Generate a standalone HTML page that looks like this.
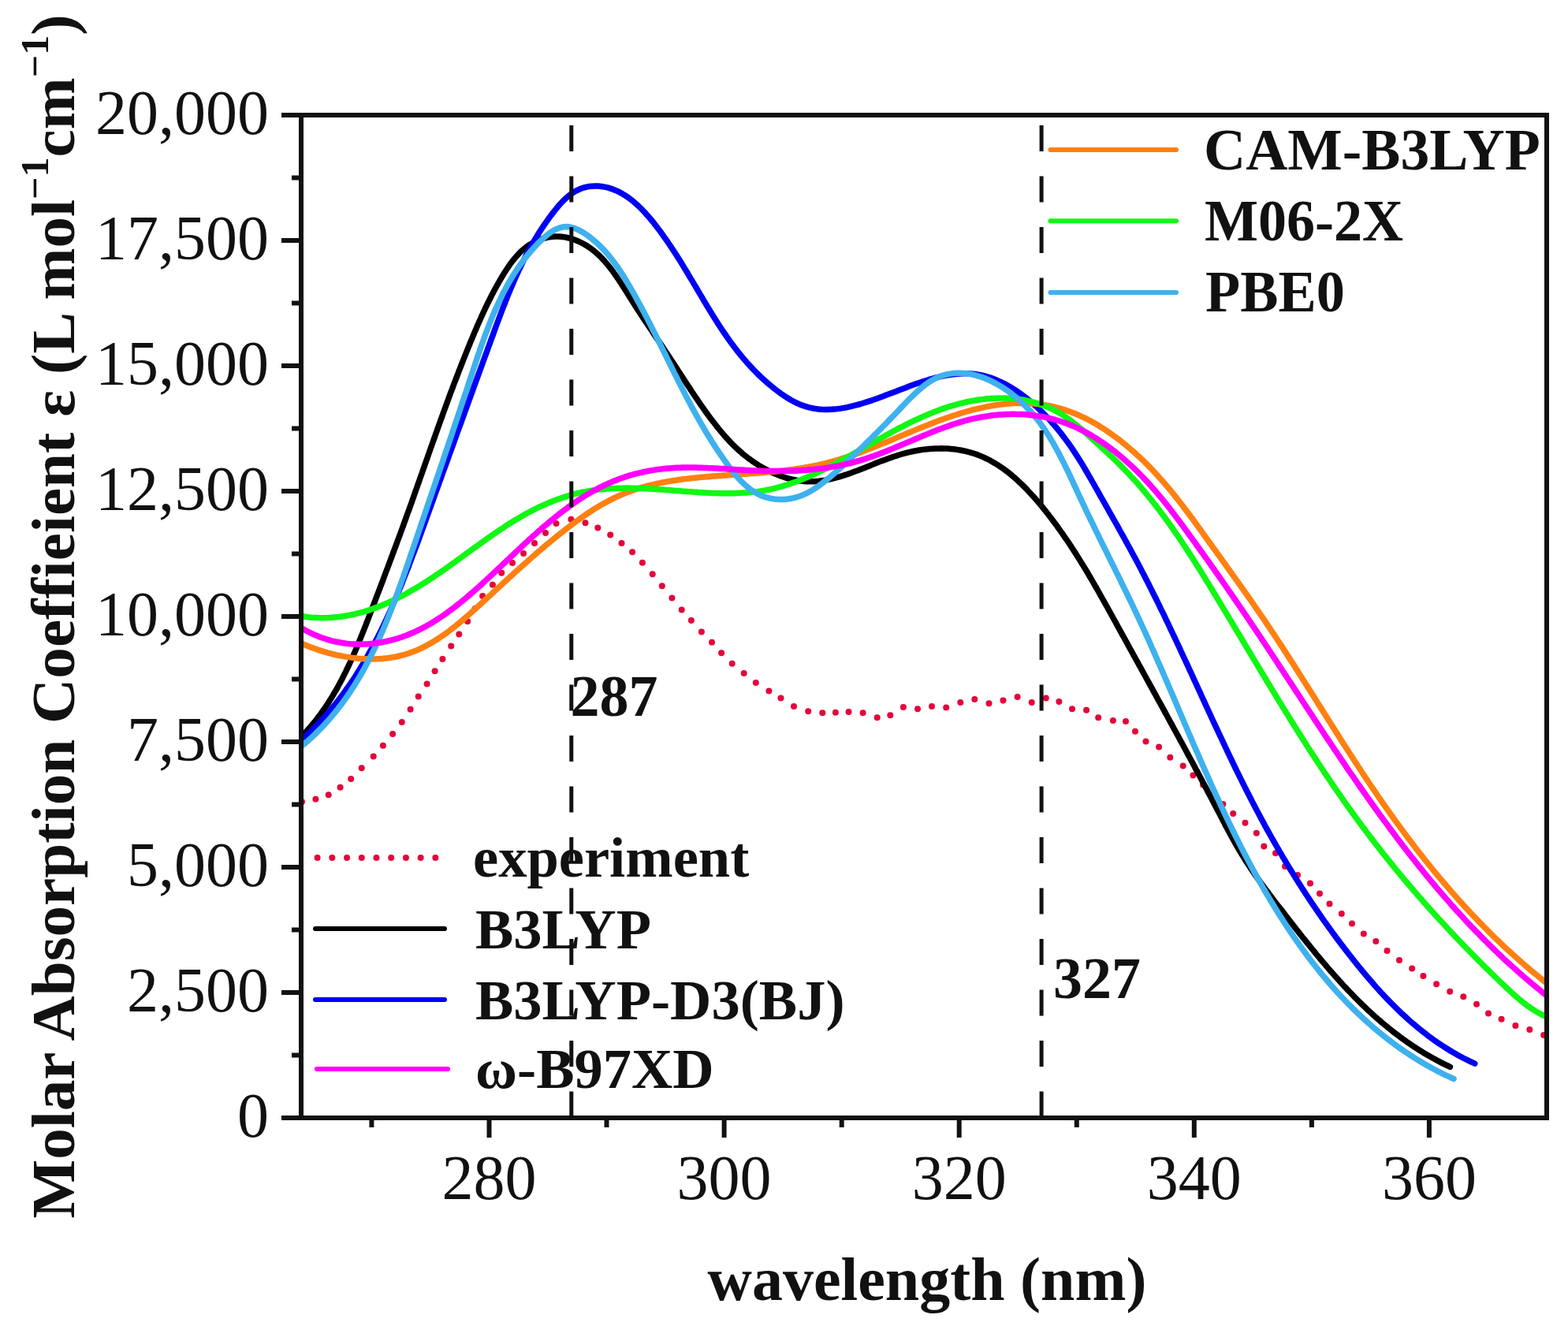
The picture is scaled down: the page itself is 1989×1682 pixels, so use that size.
<!DOCTYPE html>
<html><head><meta charset="utf-8"><style>
html,body{margin:0;padding:0;background:#fff;}
svg{display:block;}
</style></head><body>
<svg width="1989" height="1682" viewBox="0 0 1989 1682">
<rect width="1989" height="1682" fill="#fff"/>
<defs><clipPath id="c"><rect x="382" y="146" width="1580" height="1272"/></clipPath></defs>
<g clip-path="url(#c)">
<g fill="#e4063a"><circle cx="383.0" cy="1017.0" r="4"/><circle cx="400.4" cy="1013.7" r="4"/><circle cx="416.7" cy="1008.3" r="4"/><circle cx="431.6" cy="998.8" r="4"/><circle cx="445.2" cy="987.9" r="4"/><circle cx="458.7" cy="974.3" r="4"/><circle cx="473.7" cy="959.4" r="4"/><circle cx="485.9" cy="945.8" r="4"/><circle cx="498.1" cy="930.9" r="4"/><circle cx="509.8" cy="916.0" r="4"/><circle cx="520.6" cy="899.7" r="4"/><circle cx="530.7" cy="883.4" r="4"/><circle cx="541.6" cy="867.6" r="4"/><circle cx="551.6" cy="851.3" r="4"/><circle cx="561.4" cy="835.9" r="4"/><circle cx="572.2" cy="819.6" r="4"/><circle cx="582.3" cy="804.6" r="4"/><circle cx="593.1" cy="788.3" r="4"/><circle cx="602.6" cy="772.0" r="4"/><circle cx="612.1" cy="756.0" r="4"/><circle cx="624.9" cy="741.7" r="4"/><circle cx="636.2" cy="726.7" r="4"/><circle cx="650.0" cy="714.0" r="4"/><circle cx="664.0" cy="702.0" r="4"/><circle cx="678.0" cy="689.0" r="4"/><circle cx="692.0" cy="676.0" r="4"/><circle cx="705.5" cy="664.1" r="4"/><circle cx="724.4" cy="658.8" r="4"/><circle cx="742.5" cy="663.3" r="4"/><circle cx="758.3" cy="669.4" r="4"/><circle cx="774.2" cy="678.4" r="4"/><circle cx="788.5" cy="689.0" r="4"/><circle cx="802.1" cy="700.3" r="4"/><circle cx="814.9" cy="713.8" r="4"/><circle cx="827.7" cy="728.2" r="4"/><circle cx="839.8" cy="743.3" r="4"/><circle cx="852.4" cy="758.5" r="4"/><circle cx="864.7" cy="773.4" r="4"/><circle cx="876.9" cy="787.0" r="4"/><circle cx="889.9" cy="801.4" r="4"/><circle cx="903.0" cy="814.7" r="4"/><circle cx="915.1" cy="828.3" r="4"/><circle cx="928.7" cy="841.8" r="4"/><circle cx="943.7" cy="853.9" r="4"/><circle cx="958.8" cy="866.0" r="4"/><circle cx="975.4" cy="876.5" r="4"/><circle cx="990.5" cy="885.6" r="4"/><circle cx="1007.0" cy="896.1" r="4"/><circle cx="1025.2" cy="902.2" r="4"/><circle cx="1043.3" cy="904.3" r="4"/><circle cx="1059.9" cy="903.7" r="4"/><circle cx="1076.5" cy="903.1" r="4"/><circle cx="1094.6" cy="904.3" r="4"/><circle cx="1112.7" cy="910.3" r="4"/><circle cx="1129.3" cy="907.3" r="4"/><circle cx="1145.9" cy="897.0" r="4"/><circle cx="1164.0" cy="899.2" r="4"/><circle cx="1182.0" cy="896.1" r="4"/><circle cx="1200.2" cy="897.6" r="4"/><circle cx="1218.3" cy="891.0" r="4"/><circle cx="1236.3" cy="887.1" r="4"/><circle cx="1254.5" cy="892.2" r="4"/><circle cx="1272.5" cy="888.6" r="4"/><circle cx="1290.6" cy="884.0" r="4"/><circle cx="1308.7" cy="891.0" r="4"/><circle cx="1326.8" cy="885.6" r="4"/><circle cx="1343.4" cy="890.1" r="4"/><circle cx="1360.0" cy="899.2" r="4"/><circle cx="1378.1" cy="900.7" r="4"/><circle cx="1393.2" cy="910.3" r="4"/><circle cx="1411.9" cy="914.1" r="4"/><circle cx="1428.0" cy="915.1" r="4"/><circle cx="1440.0" cy="927.8" r="4"/><circle cx="1453.5" cy="940.5" r="4"/><circle cx="1470.1" cy="947.4" r="4"/><circle cx="1484.3" cy="960.7" r="4"/><circle cx="1500.7" cy="971.4" r="4"/><circle cx="1513.4" cy="983.5" r="4"/><circle cx="1526.0" cy="995.6" r="4"/><circle cx="1538.7" cy="1007.7" r="4"/><circle cx="1551.4" cy="1019.9" r="4"/><circle cx="1564.2" cy="1032.0" r="4"/><circle cx="1579.5" cy="1043.7" r="4"/><circle cx="1593.8" cy="1056.8" r="4"/><circle cx="1603.3" cy="1073.4" r="4"/><circle cx="1618.0" cy="1082.3" r="4"/><circle cx="1630.0" cy="1099.0" r="4"/><circle cx="1646.0" cy="1110.0" r="4"/><circle cx="1662.0" cy="1120.4" r="4"/><circle cx="1674.0" cy="1133.4" r="4"/><circle cx="1686.5" cy="1146.5" r="4"/><circle cx="1701.8" cy="1158.9" r="4"/><circle cx="1715.0" cy="1171.5" r="4"/><circle cx="1729.8" cy="1184.6" r="4"/><circle cx="1745.3" cy="1194.1" r="4"/><circle cx="1759.5" cy="1206.0" r="4"/><circle cx="1775.0" cy="1217.9" r="4"/><circle cx="1791.2" cy="1228.6" r="4"/><circle cx="1805.4" cy="1238.1" r="4"/><circle cx="1822.1" cy="1248.3" r="4"/><circle cx="1839.2" cy="1257.8" r="4"/><circle cx="1856.3" cy="1264.2" r="4"/><circle cx="1873.0" cy="1273.8" r="4"/><circle cx="1888.0" cy="1285.6" r="4"/><circle cx="1904.6" cy="1292.8" r="4"/><circle cx="1922.4" cy="1301.1" r="4"/><circle cx="1940.3" cy="1305.9" r="4"/><circle cx="1958.1" cy="1313.0" r="4"/></g>
<g fill="none" stroke-width="7.5" stroke-linecap="round" stroke-linejoin="round">
<path d="M382.8,934.0 385.6,931.1 388.4,928.1 391.1,925.1 393.7,922.1 396.3,919.0 398.9,915.9 401.4,912.8 403.8,909.6 406.2,906.4 408.5,903.2 410.8,899.9 413.1,896.6 415.3,893.3 417.5,889.9 419.6,886.6 421.7,883.2 423.7,879.7 425.7,876.3 427.7,872.8 429.6,869.3 431.5,865.8 433.4,862.3 435.2,858.7 437.0,855.1 438.8,851.6 440.5,847.9 442.3,844.3 443.9,840.7 445.6,837.0 447.3,833.4 448.9,829.7 450.5,826.0 452.1,822.3 453.6,818.6 455.2,814.8 456.7,811.1 458.2,807.3 459.7,803.6 461.2,799.8 462.7,796.1 464.2,792.3 465.6,788.6 467.1,784.8 468.5,781.0 470.0,777.2 471.4,773.5 472.9,769.7 474.3,765.9 475.8,762.1 477.2,758.4 478.6,754.6 480.1,750.8 481.5,747.1 482.9,743.3 484.4,739.5 485.8,735.8 487.2,732.0 488.6,728.2 490.0,724.5 491.5,720.7 492.9,716.9 494.3,713.2 495.7,709.4 497.1,705.7 498.5,701.9 499.9,698.1 501.3,694.4 502.7,690.6 504.1,686.8 505.5,683.0 506.9,679.3 508.3,675.5 509.7,671.7 511.1,667.9 512.4,664.2 513.8,660.4 515.2,656.6 516.5,652.8 517.9,649.0 519.3,645.3 520.6,641.5 522.0,637.7 523.3,633.9 524.7,630.1 526.0,626.3 527.3,622.5 528.7,618.7 530.0,614.9 531.4,611.1 532.7,607.3 534.0,603.5 535.4,599.7 536.7,595.9 538.1,592.1 539.4,588.3 540.7,584.5 542.1,580.7 543.4,576.9 544.7,573.1 546.1,569.3 547.4,565.5 548.8,561.7 550.1,557.9 551.5,554.1 552.8,550.3 554.2,546.5 555.5,542.7 556.9,538.9 558.2,535.1 559.6,531.4 561.0,527.6 562.3,523.8 563.7,520.0 565.1,516.2 566.5,512.4 567.9,508.7 569.2,504.9 570.6,501.1 572.0,497.3 573.5,493.6 574.9,489.8 576.3,486.0 577.7,482.3 579.2,478.5 580.6,474.8 582.0,471.0 583.5,467.3 585.0,463.5 586.4,459.8 587.9,456.1 589.4,452.3 590.9,448.6 592.4,444.9 593.9,441.2 595.4,437.5 596.9,433.7 598.5,430.0 600.0,426.3 601.6,422.6 603.1,419.0 604.7,415.3 606.3,411.6 607.9,407.9 609.6,404.2 611.2,400.6 612.9,396.9 614.6,393.2 616.3,389.6 618.1,385.9 619.9,382.3 621.7,378.7 623.5,375.0 625.4,371.4 627.3,367.8 629.3,364.2 631.3,360.6 633.3,357.0 635.4,353.4 637.5,349.8 639.7,346.2 642.0,342.7 644.3,339.2 646.6,335.8 649.1,332.5 651.6,329.3 654.2,326.2 656.9,323.2 659.6,320.3 662.5,317.6 665.5,315.0 668.6,312.6 671.8,310.4 675.1,308.4 678.5,306.6 682.1,305.0 685.6,303.6 689.3,302.4 693.0,301.5 696.7,300.7 700.5,300.3 704.4,300.0 708.2,300.0 712.0,300.2 715.9,300.7 719.7,301.5 723.5,302.4 727.3,303.6 731.0,305.0 734.6,306.5 738.3,308.3 741.8,310.2 745.2,312.3 748.6,314.6 751.8,317.0 755.0,319.5 758.0,322.2 761.0,325.0 763.8,327.9 766.6,330.9 769.3,334.0 771.9,337.1 774.5,340.4 777.0,343.7 779.4,347.1 781.8,350.5 784.2,354.0 786.5,357.5 788.8,361.0 791.0,364.5 793.3,368.1 795.5,371.6 797.7,375.1 799.9,378.6 802.1,382.1 804.3,385.5 806.5,389.0 808.7,392.4 810.9,395.8 813.1,399.1 815.3,402.5 817.5,405.8 819.8,409.1 822.0,412.4 824.2,415.8 826.4,419.0 828.6,422.3 830.8,425.6 833.0,428.9 835.2,432.2 837.4,435.5 839.6,438.7 841.8,442.0 843.9,445.3 846.1,448.6 848.3,451.9 850.5,455.3 852.7,458.6 854.9,461.9 857.1,465.3 859.3,468.6 861.4,472.0 863.6,475.4 865.8,478.7 868.0,482.1 870.2,485.5 872.5,488.9 874.7,492.2 876.9,495.6 879.1,499.0 881.4,502.3 883.7,505.7 885.9,509.0 888.2,512.3 890.5,515.6 892.8,518.9 895.2,522.2 897.5,525.5 899.9,528.7 902.3,531.9 904.7,535.1 907.2,538.3 909.6,541.4 912.1,544.5 914.7,547.6 917.3,550.7 919.9,553.7 922.5,556.6 925.3,559.6 928.0,562.4 930.8,565.3 933.7,568.0 936.7,570.8 939.7,573.4 942.7,576.1 945.9,578.6 949.1,581.1 952.4,583.5 955.7,585.9 959.2,588.2 962.6,590.4 966.2,592.5 969.8,594.5 973.4,596.4 977.1,598.3 980.9,600.0 984.6,601.6 988.4,603.1 992.3,604.5 996.1,605.8 1000.0,606.9 1003.9,607.9 1007.7,608.7 1011.6,609.5 1015.5,610.0 1019.4,610.4 1023.3,610.7 1027.2,610.8 1031.0,610.7 1034.9,610.5 1038.7,610.2 1042.5,609.7 1046.4,609.1 1050.2,608.4 1054.0,607.6 1057.8,606.7 1061.6,605.6 1065.4,604.6 1069.2,603.4 1073.0,602.2 1076.8,600.9 1080.6,599.5 1084.4,598.1 1088.2,596.7 1092.0,595.2 1095.8,593.7 1099.6,592.2 1103.4,590.7 1107.3,589.1 1111.1,587.6 1114.9,586.1 1118.8,584.6 1122.7,583.2 1126.5,581.7 1130.4,580.4 1134.3,579.0 1138.3,577.8 1142.2,576.5 1146.1,575.4 1150.1,574.4 1154.1,573.4 1158.1,572.5 1162.1,571.7 1166.1,571.0 1170.2,570.4 1174.2,569.9 1178.2,569.5 1182.3,569.2 1186.3,569.0 1190.3,568.9 1194.4,568.8 1198.4,568.9 1202.4,569.1 1206.3,569.4 1210.3,569.8 1214.2,570.4 1218.1,571.0 1221.9,571.7 1225.8,572.6 1229.6,573.6 1233.3,574.6 1237.0,575.8 1240.7,577.1 1244.3,578.6 1247.9,580.1 1251.4,581.8 1254.9,583.5 1258.3,585.4 1261.7,587.4 1265.0,589.4 1268.3,591.6 1271.6,593.8 1274.8,596.1 1278.0,598.5 1281.1,601.0 1284.2,603.6 1287.2,606.2 1290.3,608.9 1293.2,611.7 1296.2,614.5 1299.1,617.3 1301.9,620.2 1304.7,623.2 1307.5,626.2 1310.3,629.2 1313.0,632.3 1315.7,635.4 1318.4,638.6 1321.0,641.7 1323.6,644.9 1326.2,648.1 1328.7,651.3 1331.2,654.5 1333.7,657.8 1336.1,661.0 1338.6,664.3 1341.0,667.5 1343.3,670.8 1345.7,674.1 1348.0,677.4 1350.3,680.8 1352.6,684.1 1354.9,687.4 1357.1,690.8 1359.3,694.1 1361.5,697.5 1363.7,700.9 1365.8,704.3 1368.0,707.7 1370.1,711.1 1372.2,714.5 1374.3,717.9 1376.4,721.3 1378.5,724.8 1380.5,728.2 1382.6,731.7 1384.6,735.1 1386.6,738.6 1388.6,742.1 1390.6,745.5 1392.6,749.0 1394.6,752.5 1396.5,756.0 1398.5,759.5 1400.5,763.0 1402.4,766.5 1404.4,770.0 1406.3,773.5 1408.3,777.0 1410.2,780.5 1412.1,784.0 1414.1,787.5 1416.0,791.0 1417.9,794.6 1419.9,798.1 1421.8,801.6 1423.7,805.1 1425.7,808.6 1427.6,812.2 1429.6,815.7 1431.5,819.2 1433.4,822.7 1435.4,826.2 1437.3,829.8 1439.3,833.3 1441.2,836.8 1443.2,840.3 1445.1,843.9 1447.1,847.4 1449.0,850.9 1450.9,854.5 1452.9,858.0 1454.8,861.5 1456.8,865.1 1458.7,868.6 1460.7,872.1 1462.6,875.6 1464.5,879.2 1466.5,882.7 1468.4,886.3 1470.4,889.8 1472.3,893.3 1474.3,896.9 1476.2,900.4 1478.1,903.9 1480.1,907.5 1482.0,911.0 1483.9,914.6 1485.9,918.1 1487.8,921.7 1489.7,925.2 1491.7,928.7 1493.6,932.3 1495.5,935.8 1497.4,939.4 1499.4,942.9 1501.3,946.5 1503.2,950.0 1505.1,953.6 1507.0,957.1 1509.0,960.7 1510.9,964.2 1512.8,967.8 1514.7,971.3 1516.6,974.9 1518.5,978.4 1520.4,982.0 1522.3,985.5 1524.2,989.1 1526.1,992.7 1528.0,996.2 1529.9,999.8 1531.7,1003.3 1533.6,1006.9 1535.5,1010.4 1537.4,1014.0 1539.2,1017.6 1541.1,1021.1 1543.0,1024.7 1544.8,1028.3 1546.7,1031.8 1548.6,1035.4 1550.4,1038.9 1552.3,1042.5 1554.1,1046.1 1556.0,1049.6 1557.9,1053.1 1559.8,1056.7 1561.7,1060.2 1563.6,1063.7 1565.6,1067.2 1567.5,1070.7 1569.5,1074.2 1571.5,1077.6 1573.6,1081.1 1575.7,1084.5 1577.8,1087.9 1579.9,1091.3 1582.1,1094.7 1584.3,1098.0 1586.5,1101.4 1588.7,1104.7 1591.0,1108.0 1593.3,1111.3 1595.6,1114.6 1597.9,1117.8 1600.3,1121.1 1602.7,1124.3 1605.1,1127.6 1607.5,1130.8 1609.9,1134.0 1612.3,1137.2 1614.7,1140.4 1617.2,1143.7 1619.6,1146.9 1622.1,1150.1 1624.6,1153.2 1627.1,1156.4 1629.5,1159.6 1632.0,1162.8 1634.5,1166.0 1637.0,1169.2 1639.5,1172.4 1641.9,1175.6 1644.4,1178.8 1646.9,1181.9 1649.4,1185.1 1651.9,1188.3 1654.5,1191.4 1657.0,1194.6 1659.5,1197.7 1662.1,1200.9 1664.6,1204.0 1667.2,1207.1 1669.7,1210.3 1672.3,1213.4 1674.9,1216.5 1677.5,1219.6 1680.1,1222.6 1682.7,1225.7 1685.3,1228.8 1687.9,1231.8 1690.6,1234.8 1693.2,1237.8 1695.9,1240.8 1698.6,1243.8 1701.3,1246.8 1704.0,1249.8 1706.8,1252.7 1709.5,1255.6 1712.3,1258.5 1715.1,1261.4 1717.9,1264.3 1720.7,1267.1 1723.5,1270.0 1726.4,1272.8 1729.2,1275.6 1732.1,1278.3 1735.0,1281.1 1738.0,1283.8 1740.9,1286.5 1743.9,1289.2 1746.9,1291.8 1749.9,1294.4 1752.9,1297.1 1756.0,1299.6 1759.1,1302.2 1762.2,1304.7 1765.3,1307.2 1768.5,1309.7 1771.7,1312.1 1774.9,1314.5 1778.1,1316.9 1781.4,1319.3 1784.6,1321.6 1788.0,1323.9 1791.3,1326.1 1794.7,1328.4 1798.1,1330.6 1801.5,1332.7 1805.0,1334.9 1808.4,1336.9 1812.0,1339.0 1815.5,1341.0 1819.1,1343.0 1822.7,1345.0 1826.3,1346.9 1830.0,1348.8 1833.7,1350.6 1837.5,1352.4 1839.4,1353.3" stroke="#000000" />
<path d="M382.7,938.3 385.9,935.3 389.1,932.4 392.2,929.4 395.3,926.4 398.3,923.4 401.3,920.4 404.3,917.3 407.2,914.2 410.1,911.0 412.9,907.9 415.7,904.7 418.5,901.5 421.2,898.2 423.9,895.0 426.5,891.7 429.1,888.4 431.7,885.0 434.2,881.6 436.7,878.3 439.1,874.8 441.6,871.4 444.0,868.0 446.3,864.5 448.7,861.0 451.0,857.5 453.2,853.9 455.5,850.4 457.7,846.8 459.8,843.2 462.0,839.6 464.1,836.0 466.2,832.3 468.2,828.6 470.3,825.0 472.3,821.3 474.3,817.5 476.2,813.8 478.2,810.1 480.1,806.3 482.0,802.5 483.8,798.8 485.7,795.0 487.5,791.1 489.3,787.3 491.1,783.5 492.9,779.6 494.6,775.8 496.3,771.9 498.0,768.0 499.7,764.1 501.4,760.2 503.1,756.3 504.7,752.4 506.3,748.5 508.0,744.5 509.6,740.6 511.1,736.6 512.7,732.7 514.3,728.7 515.8,724.7 517.4,720.8 518.9,716.8 520.4,712.8 521.9,708.8 523.4,704.8 524.9,700.9 526.4,696.9 527.9,692.9 529.4,688.9 530.9,684.9 532.3,680.9 533.8,676.9 535.2,672.9 536.7,668.9 538.1,664.9 539.6,660.9 541.0,656.9 542.5,652.9 543.9,648.9 545.4,644.9 546.8,640.9 548.3,636.9 549.7,632.9 551.1,629.0 552.6,625.0 554.0,621.0 555.5,617.0 556.9,613.0 558.3,609.1 559.8,605.1 561.2,601.1 562.6,597.1 564.1,593.2 565.5,589.2 567.0,585.2 568.4,581.3 569.8,577.3 571.3,573.3 572.7,569.4 574.1,565.4 575.6,561.4 577.0,557.5 578.4,553.5 579.9,549.5 581.3,545.6 582.7,541.6 584.2,537.7 585.6,533.7 587.1,529.7 588.5,525.8 589.9,521.8 591.4,517.8 592.8,513.9 594.2,509.9 595.7,505.9 597.1,502.0 598.6,498.0 600.0,494.0 601.4,490.1 602.9,486.1 604.3,482.1 605.8,478.2 607.2,474.2 608.7,470.2 610.1,466.2 611.6,462.3 613.0,458.3 614.5,454.3 615.9,450.3 617.4,446.4 618.8,442.4 620.3,438.4 621.7,434.4 623.2,430.4 624.7,426.4 626.1,422.4 627.6,418.4 629.0,414.4 630.5,410.5 632.0,406.5 633.5,402.5 635.0,398.5 636.5,394.5 638.0,390.5 639.6,386.6 641.1,382.6 642.7,378.6 644.3,374.7 645.9,370.7 647.5,366.8 649.2,362.9 650.9,359.0 652.6,355.1 654.3,351.2 656.1,347.3 657.8,343.4 659.7,339.6 661.5,335.7 663.4,331.9 665.3,328.1 667.2,324.3 669.2,320.5 671.2,316.8 673.3,313.0 675.4,309.3 677.5,305.6 679.7,301.9 681.9,298.3 684.2,294.6 686.5,291.0 688.9,287.4 691.3,283.9 693.8,280.3 696.3,276.8 698.8,273.4 701.5,269.9 704.2,266.5 706.9,263.1 709.7,259.8 712.6,256.7 715.6,253.7 718.6,250.8 721.8,248.1 725.0,245.7 728.4,243.4 731.9,241.5 735.5,239.8 739.2,238.4 743.0,237.4 746.9,236.6 750.8,236.2 754.8,236.0 758.8,236.1 762.8,236.5 766.8,237.1 770.7,237.9 774.5,239.1 778.3,240.4 782.0,241.9 785.6,243.7 789.2,245.6 792.6,247.7 796.1,250.0 799.4,252.4 802.7,255.0 805.9,257.8 809.1,260.6 812.2,263.6 815.3,266.7 818.3,269.9 821.2,273.2 824.1,276.5 827.0,280.0 829.8,283.4 832.5,287.0 835.2,290.5 837.9,294.1 840.5,297.7 843.0,301.3 845.6,304.9 848.0,308.5 850.5,312.1 852.9,315.8 855.3,319.4 857.7,323.0 860.0,326.7 862.3,330.3 864.6,334.0 866.8,337.6 869.0,341.3 871.3,345.0 873.4,348.6 875.6,352.3 877.8,355.9 880.0,359.6 882.1,363.2 884.3,366.8 886.4,370.5 888.6,374.1 890.7,377.7 892.8,381.3 895.0,384.9 897.1,388.5 899.3,392.0 901.5,395.6 903.7,399.2 905.9,402.7 908.1,406.2 910.3,409.7 912.6,413.2 914.8,416.7 917.1,420.1 919.5,423.5 921.8,426.9 924.2,430.3 926.6,433.7 929.1,437.0 931.5,440.3 934.1,443.6 936.6,446.9 939.2,450.1 941.9,453.4 944.6,456.5 947.3,459.7 950.1,462.8 953.0,465.9 955.9,469.0 958.8,472.0 961.8,475.0 964.9,478.0 968.1,480.9 971.3,483.8 974.5,486.6 977.9,489.4 981.3,492.2 984.8,494.9 988.3,497.6 991.9,500.2 995.6,502.6 999.3,505.0 1003.0,507.2 1006.8,509.3 1010.6,511.2 1014.5,512.9 1018.4,514.4 1022.3,515.7 1026.2,516.8 1030.2,517.7 1034.1,518.4 1038.1,519.0 1042.1,519.3 1046.1,519.5 1050.2,519.5 1054.2,519.3 1058.3,519.1 1062.4,518.6 1066.5,518.1 1070.6,517.4 1074.7,516.6 1078.8,515.7 1082.9,514.7 1087.0,513.6 1091.2,512.5 1095.3,511.2 1099.5,509.9 1103.6,508.6 1107.7,507.2 1111.9,505.7 1116.0,504.2 1120.1,502.7 1124.3,501.1 1128.4,499.6 1132.6,498.0 1136.7,496.4 1140.8,494.8 1145.0,493.2 1149.1,491.7 1153.2,490.1 1157.3,488.6 1161.4,487.1 1165.5,485.7 1169.6,484.3 1173.7,483.0 1177.8,481.7 1181.9,480.5 1186.0,479.4 1190.0,478.4 1194.1,477.4 1198.2,476.6 1202.2,475.8 1206.2,475.2 1210.3,474.7 1214.3,474.3 1218.3,474.0 1222.3,473.8 1226.2,473.8 1230.2,474.0 1234.2,474.3 1238.1,474.8 1242.1,475.4 1246.0,476.2 1249.9,477.2 1253.8,478.3 1257.6,479.6 1261.5,481.0 1265.3,482.6 1269.1,484.3 1272.8,486.1 1276.6,488.1 1280.3,490.2 1284.0,492.3 1287.6,494.6 1291.2,497.1 1294.8,499.6 1298.3,502.2 1301.8,504.8 1305.2,507.6 1308.6,510.4 1311.9,513.4 1315.2,516.3 1318.5,519.4 1321.7,522.5 1324.8,525.6 1327.9,528.8 1330.9,532.1 1333.9,535.4 1336.8,538.7 1339.6,542.0 1342.4,545.3 1345.1,548.7 1347.7,552.1 1350.3,555.5 1352.8,558.9 1355.3,562.3 1357.7,565.7 1360.1,569.2 1362.4,572.6 1364.7,576.1 1366.9,579.6 1369.1,583.1 1371.3,586.6 1373.5,590.1 1375.6,593.7 1377.7,597.2 1379.8,600.8 1381.8,604.3 1383.9,607.9 1385.9,611.5 1388.0,615.1 1390.0,618.7 1392.1,622.3 1394.1,625.9 1396.1,629.6 1398.2,633.2 1400.3,636.8 1402.3,640.5 1404.4,644.1 1406.5,647.8 1408.5,651.5 1410.6,655.2 1412.7,658.8 1414.8,662.5 1416.9,666.2 1418.9,669.9 1421.0,673.7 1423.1,677.4 1425.2,681.1 1427.2,684.8 1429.3,688.6 1431.3,692.3 1433.4,696.0 1435.4,699.8 1437.4,703.5 1439.5,707.3 1441.5,711.1 1443.5,714.8 1445.5,718.6 1447.5,722.4 1449.4,726.2 1451.4,729.9 1453.3,733.7 1455.3,737.5 1457.2,741.3 1459.1,745.1 1461.0,748.9 1462.9,752.7 1464.8,756.5 1466.7,760.3 1468.6,764.2 1470.5,768.0 1472.3,771.8 1474.2,775.6 1476.1,779.4 1477.9,783.3 1479.7,787.1 1481.6,790.9 1483.4,794.8 1485.2,798.6 1487.0,802.4 1488.8,806.3 1490.7,810.1 1492.5,814.0 1494.3,817.8 1496.1,821.6 1497.8,825.5 1499.6,829.3 1501.4,833.2 1503.2,837.0 1505.0,840.9 1506.8,844.7 1508.5,848.6 1510.3,852.4 1512.1,856.3 1513.8,860.1 1515.6,864.0 1517.4,867.8 1519.1,871.7 1520.9,875.5 1522.7,879.4 1524.4,883.2 1526.2,887.1 1528.0,890.9 1529.7,894.8 1531.5,898.6 1533.3,902.5 1535.1,906.3 1536.8,910.2 1538.6,914.0 1540.4,917.9 1542.2,921.7 1544.0,925.5 1545.8,929.4 1547.6,933.2 1549.4,937.0 1551.2,940.9 1553.0,944.7 1554.8,948.5 1556.6,952.3 1558.4,956.1 1560.2,960.0 1562.1,963.8 1563.9,967.6 1565.7,971.4 1567.6,975.2 1569.4,979.0 1571.3,982.8 1573.2,986.6 1575.1,990.4 1576.9,994.1 1578.8,997.9 1580.7,1001.7 1582.7,1005.5 1584.6,1009.2 1586.5,1013.0 1588.4,1016.8 1590.4,1020.5 1592.3,1024.3 1594.3,1028.0 1596.3,1031.7 1598.3,1035.5 1600.3,1039.2 1602.3,1042.9 1604.3,1046.7 1606.3,1050.4 1608.4,1054.1 1610.4,1057.8 1612.5,1061.5 1614.6,1065.2 1616.7,1068.8 1618.8,1072.5 1620.9,1076.2 1623.0,1079.9 1625.2,1083.5 1627.3,1087.2 1629.5,1090.8 1631.7,1094.5 1633.9,1098.1 1636.1,1101.7 1638.3,1105.3 1640.5,1108.9 1642.8,1112.5 1645.0,1116.1 1647.3,1119.7 1649.6,1123.3 1651.9,1126.9 1654.2,1130.4 1656.5,1134.0 1658.8,1137.5 1661.2,1141.1 1663.5,1144.6 1665.9,1148.1 1668.3,1151.6 1670.7,1155.2 1673.1,1158.7 1675.5,1162.1 1677.9,1165.6 1680.4,1169.1 1682.9,1172.5 1685.3,1176.0 1687.8,1179.4 1690.3,1182.9 1692.8,1186.3 1695.3,1189.7 1697.9,1193.1 1700.4,1196.5 1703.0,1199.9 1705.6,1203.3 1708.2,1206.6 1710.8,1210.0 1713.4,1213.3 1716.0,1216.6 1718.7,1220.0 1721.3,1223.3 1724.0,1226.6 1726.7,1229.9 1729.4,1233.1 1732.1,1236.4 1734.8,1239.6 1737.6,1242.8 1740.4,1246.0 1743.1,1249.2 1746.0,1252.4 1748.8,1255.5 1751.6,1258.7 1754.5,1261.8 1757.4,1264.8 1760.3,1267.9 1763.2,1270.9 1766.2,1273.9 1769.2,1276.9 1772.2,1279.9 1775.2,1282.8 1778.3,1285.7 1781.4,1288.6 1784.5,1291.4 1787.6,1294.2 1790.8,1297.0 1794.0,1299.7 1797.2,1302.4 1800.5,1305.1 1803.7,1307.7 1807.1,1310.3 1810.4,1312.9 1813.8,1315.4 1817.2,1317.9 1820.6,1320.4 1824.1,1322.8 1827.6,1325.1 1831.2,1327.5 1834.8,1329.7 1838.4,1332.0 1842.0,1334.2 1845.7,1336.3 1849.4,1338.4 1853.2,1340.5 1857.0,1342.5 1860.9,1344.4 1864.8,1346.4 1868.7,1348.2 1870.7,1349.1" stroke="#0000f4" />
<path d="M382.1,815.9 385.0,817.2 388.1,818.5 391.1,819.7 394.2,820.9 397.3,822.1 400.5,823.3 403.7,824.4 406.9,825.4 410.2,826.4 413.5,827.4 416.8,828.3 420.1,829.2 423.5,830.0 426.8,830.8 430.2,831.5 433.6,832.2 437.0,832.9 440.4,833.4 443.9,833.9 447.3,834.4 450.7,834.8 454.2,835.2 457.6,835.4 461.1,835.7 464.5,835.8 467.9,835.9 471.4,836.0 474.8,835.9 478.2,835.8 481.6,835.7 485.0,835.4 488.4,835.1 491.7,834.7 495.0,834.3 498.3,833.8 501.6,833.2 504.9,832.5 508.1,831.7 511.3,830.9 514.5,830.0 517.6,829.0 520.7,827.9 523.8,826.8 526.9,825.6 529.9,824.3 532.9,822.9 535.9,821.5 538.8,820.1 541.7,818.5 544.6,816.9 547.5,815.3 550.3,813.6 553.2,811.8 556.0,810.0 558.7,808.2 561.5,806.3 564.3,804.4 567.0,802.4 569.7,800.4 572.4,798.3 575.0,796.3 577.7,794.1 580.3,792.0 583.0,789.8 585.6,787.6 588.2,785.4 590.8,783.2 593.3,781.0 595.9,778.7 598.5,776.4 601.0,774.1 603.5,771.8 606.1,769.5 608.6,767.2 611.1,764.9 613.6,762.6 616.1,760.3 618.6,758.0 621.1,755.7 623.6,753.4 626.1,751.1 628.6,748.8 631.0,746.5 633.5,744.2 636.0,741.9 638.5,739.6 640.9,737.4 643.4,735.1 645.9,732.8 648.4,730.6 650.9,728.3 653.3,726.1 655.8,723.8 658.3,721.6 660.8,719.3 663.3,717.1 665.8,714.9 668.3,712.7 670.8,710.4 673.3,708.2 675.8,706.0 678.4,703.8 680.9,701.6 683.4,699.4 686.0,697.3 688.5,695.1 691.1,692.9 693.7,690.7 696.3,688.6 698.9,686.4 701.5,684.3 704.1,682.1 706.8,680.0 709.4,677.9 712.1,675.8 714.8,673.6 717.4,671.5 720.2,669.5 722.9,667.4 725.6,665.3 728.4,663.3 731.1,661.2 733.9,659.2 736.7,657.2 739.5,655.3 742.3,653.3 745.1,651.4 748.0,649.5 750.9,647.7 753.7,645.8 756.6,644.1 759.5,642.3 762.5,640.6 765.4,638.9 768.4,637.3 771.3,635.7 774.3,634.1 777.3,632.6 780.3,631.1 783.4,629.7 786.4,628.3 789.5,627.0 792.6,625.8 795.7,624.5 798.8,623.4 801.9,622.2 805.0,621.2 808.2,620.1 811.4,619.2 814.6,618.2 817.7,617.3 821.0,616.4 824.2,615.6 827.4,614.8 830.6,614.1 833.9,613.3 837.2,612.7 840.4,612.0 843.7,611.4 847.0,610.8 850.3,610.2 853.6,609.7 856.9,609.2 860.3,608.7 863.6,608.2 866.9,607.8 870.3,607.4 873.7,607.0 877.0,606.6 880.4,606.3 883.7,605.9 887.1,605.6 890.5,605.3 893.9,605.0 897.3,604.7 900.7,604.4 904.1,604.1 907.5,603.9 910.9,603.6 914.3,603.4 917.7,603.1 921.1,602.9 924.5,602.7 927.9,602.4 931.3,602.2 934.7,602.0 938.1,601.7 941.5,601.5 944.9,601.3 948.3,601.0 951.7,600.8 955.1,600.5 958.5,600.3 961.9,600.0 965.3,599.7 968.7,599.4 972.0,599.1 975.4,598.8 978.8,598.5 982.2,598.2 985.5,597.8 988.9,597.5 992.3,597.1 995.6,596.7 999.0,596.3 1002.3,595.8 1005.7,595.4 1009.0,594.9 1012.3,594.4 1015.7,593.9 1019.0,593.4 1022.3,592.8 1025.6,592.2 1028.9,591.6 1032.2,591.0 1035.4,590.3 1038.7,589.6 1042.0,588.9 1045.2,588.1 1048.4,587.3 1051.7,586.5 1054.9,585.6 1058.1,584.7 1061.3,583.8 1064.5,582.9 1067.7,581.9 1070.9,580.9 1074.1,579.9 1077.2,578.8 1080.4,577.7 1083.6,576.6 1086.7,575.5 1089.9,574.4 1093.0,573.2 1096.1,572.0 1099.3,570.8 1102.4,569.6 1105.5,568.4 1108.7,567.1 1111.8,565.9 1114.9,564.6 1118.0,563.3 1121.2,562.1 1124.3,560.8 1127.4,559.5 1130.5,558.2 1133.6,556.9 1136.8,555.6 1139.9,554.2 1143.0,552.9 1146.2,551.6 1149.3,550.3 1152.4,549.0 1155.6,547.7 1158.7,546.4 1161.9,545.1 1165.1,543.8 1168.2,542.5 1171.4,541.2 1174.6,539.9 1177.8,538.7 1180.9,537.5 1184.1,536.2 1187.4,535.0 1190.6,533.8 1193.8,532.6 1197.0,531.5 1200.3,530.3 1203.5,529.2 1206.7,528.1 1210.0,527.0 1213.3,526.0 1216.5,524.9 1219.8,523.9 1223.1,523.0 1226.3,522.0 1229.6,521.1 1232.9,520.2 1236.2,519.4 1239.5,518.6 1242.8,517.8 1246.1,517.1 1249.4,516.4 1252.7,515.7 1256.0,515.1 1259.3,514.5 1262.6,514.0 1265.9,513.5 1269.2,513.1 1272.5,512.7 1275.8,512.3 1279.1,512.0 1282.4,511.8 1285.7,511.6 1289.1,511.5 1292.4,511.4 1295.7,511.4 1299.0,511.4 1302.3,511.5 1305.6,511.6 1308.9,511.8 1312.2,512.1 1315.5,512.4 1318.7,512.8 1322.0,513.3 1325.3,513.8 1328.6,514.4 1331.8,515.0 1335.1,515.7 1338.3,516.5 1341.6,517.3 1344.8,518.2 1348.0,519.1 1351.2,520.1 1354.3,521.2 1357.5,522.3 1360.6,523.5 1363.8,524.7 1366.9,526.0 1369.9,527.4 1373.0,528.8 1376.0,530.2 1379.0,531.7 1382.0,533.3 1385.0,534.9 1387.9,536.6 1390.9,538.3 1393.8,540.0 1396.6,541.8 1399.5,543.6 1402.3,545.5 1405.1,547.4 1407.9,549.3 1410.7,551.3 1413.4,553.3 1416.2,555.3 1418.9,557.3 1421.6,559.4 1424.2,561.5 1426.9,563.6 1429.5,565.8 1432.1,568.0 1434.6,570.2 1437.2,572.4 1439.7,574.6 1442.2,576.9 1444.7,579.2 1447.2,581.5 1449.6,583.8 1452.0,586.2 1454.4,588.5 1456.8,590.9 1459.2,593.3 1461.5,595.8 1463.8,598.2 1466.1,600.7 1468.4,603.2 1470.6,605.7 1472.9,608.2 1475.1,610.7 1477.3,613.2 1479.5,615.8 1481.6,618.3 1483.8,620.9 1485.9,623.5 1488.0,626.1 1490.1,628.7 1492.2,631.4 1494.3,634.0 1496.4,636.7 1498.4,639.3 1500.5,642.0 1502.5,644.7 1504.5,647.3 1506.6,650.0 1508.6,652.7 1510.6,655.4 1512.6,658.1 1514.6,660.8 1516.5,663.6 1518.5,666.3 1520.5,669.0 1522.5,671.8 1524.4,674.5 1526.4,677.2 1528.4,680.0 1530.3,682.7 1532.3,685.4 1534.3,688.2 1536.3,690.9 1538.2,693.7 1540.2,696.4 1542.2,699.1 1544.1,701.9 1546.1,704.6 1548.1,707.4 1550.0,710.1 1552.0,712.9 1554.0,715.6 1555.9,718.3 1557.9,721.1 1559.9,723.8 1561.8,726.6 1563.8,729.3 1565.8,732.1 1567.7,734.8 1569.7,737.6 1571.6,740.4 1573.6,743.1 1575.5,745.9 1577.5,748.6 1579.4,751.4 1581.4,754.2 1583.3,756.9 1585.3,759.7 1587.2,762.5 1589.1,765.2 1591.0,768.0 1593.0,770.8 1594.9,773.6 1596.8,776.4 1598.7,779.1 1600.6,781.9 1602.5,784.7 1604.4,787.5 1606.3,790.3 1608.2,793.1 1610.1,795.9 1611.9,798.7 1613.8,801.5 1615.7,804.3 1617.5,807.2 1619.4,810.0 1621.2,812.8 1623.1,815.6 1624.9,818.4 1626.8,821.3 1628.6,824.1 1630.4,826.9 1632.3,829.8 1634.1,832.6 1635.9,835.4 1637.7,838.3 1639.6,841.1 1641.4,844.0 1643.2,846.8 1645.0,849.6 1646.8,852.5 1648.6,855.3 1650.4,858.2 1652.2,861.0 1654.0,863.9 1655.8,866.7 1657.6,869.6 1659.4,872.4 1661.2,875.3 1663.0,878.1 1664.8,881.0 1666.6,883.8 1668.4,886.7 1670.2,889.5 1672.0,892.4 1673.8,895.3 1675.6,898.1 1677.4,901.0 1679.2,903.8 1681.0,906.7 1682.8,909.5 1684.6,912.4 1686.4,915.2 1688.2,918.1 1690.0,920.9 1691.8,923.8 1693.6,926.6 1695.4,929.5 1697.2,932.3 1699.0,935.2 1700.8,938.0 1702.6,940.9 1704.4,943.7 1706.2,946.5 1708.1,949.4 1709.9,952.2 1711.7,955.0 1713.5,957.9 1715.4,960.7 1717.2,963.5 1719.0,966.4 1720.9,969.2 1722.7,972.0 1724.6,974.8 1726.4,977.7 1728.3,980.5 1730.1,983.3 1732.0,986.1 1733.9,988.9 1735.7,991.7 1737.6,994.5 1739.5,997.3 1741.4,1000.1 1743.3,1002.9 1745.2,1005.7 1747.1,1008.5 1749.0,1011.3 1750.9,1014.1 1752.8,1016.8 1754.8,1019.6 1756.7,1022.4 1758.6,1025.1 1760.6,1027.9 1762.5,1030.7 1764.5,1033.4 1766.5,1036.2 1768.4,1038.9 1770.4,1041.7 1772.4,1044.4 1774.4,1047.1 1776.4,1049.9 1778.4,1052.6 1780.4,1055.3 1782.4,1058.0 1784.4,1060.7 1786.5,1063.4 1788.5,1066.1 1790.6,1068.8 1792.6,1071.5 1794.7,1074.2 1796.7,1076.9 1798.8,1079.5 1800.9,1082.2 1803.0,1084.9 1805.1,1087.5 1807.2,1090.2 1809.3,1092.8 1811.4,1095.5 1813.5,1098.1 1815.7,1100.7 1817.8,1103.4 1819.9,1106.0 1822.1,1108.6 1824.2,1111.2 1826.4,1113.8 1828.6,1116.4 1830.8,1118.9 1833.0,1121.5 1835.2,1124.1 1837.4,1126.7 1839.6,1129.2 1841.8,1131.8 1844.0,1134.3 1846.3,1136.8 1848.5,1139.4 1850.7,1141.9 1853.0,1144.4 1855.3,1146.9 1857.5,1149.4 1859.8,1151.9 1862.1,1154.4 1864.4,1156.8 1866.7,1159.3 1869.0,1161.8 1871.4,1164.2 1873.7,1166.6 1876.0,1169.1 1878.4,1171.5 1880.7,1173.9 1883.1,1176.3 1885.5,1178.7 1887.8,1181.1 1890.2,1183.5 1892.6,1185.9 1895.0,1188.2 1897.4,1190.6 1899.9,1192.9 1902.3,1195.2 1904.7,1197.6 1907.2,1199.9 1909.6,1202.2 1912.1,1204.5 1914.6,1206.8 1917.1,1209.1 1919.6,1211.3 1922.1,1213.6 1924.6,1215.8 1927.1,1218.1 1929.6,1220.3 1932.2,1222.5 1934.7,1224.7 1937.3,1226.9 1939.8,1229.1 1942.4,1231.3 1945.0,1233.4 1947.6,1235.6 1950.2,1237.7 1952.8,1239.9 1955.4,1242.0 1958.0,1244.1 1960.7,1246.2 1963.3,1248.3 1964.6,1249.3" stroke="#ff8010" />
<path d="M381.6,781.5 385.2,782.1 388.8,782.5 392.3,782.9 395.8,783.2 399.3,783.4 402.8,783.6 406.3,783.7 409.7,783.7 413.1,783.7 416.6,783.6 419.9,783.4 423.3,783.1 426.7,782.8 430.0,782.5 433.4,782.0 436.7,781.5 440.0,781.0 443.3,780.4 446.6,779.7 449.8,779.0 453.0,778.2 456.3,777.4 459.5,776.5 462.7,775.6 465.9,774.6 469.0,773.6 472.2,772.5 475.3,771.4 478.5,770.2 481.6,769.0 484.7,767.8 487.8,766.5 490.8,765.1 493.9,763.8 496.9,762.3 500.0,760.9 503.0,759.4 506.0,757.9 509.0,756.3 512.0,754.8 515.0,753.2 517.9,751.5 520.9,749.8 523.8,748.1 526.8,746.4 529.7,744.7 532.6,742.9 535.5,741.1 538.4,739.3 541.3,737.5 544.1,735.6 547.0,733.7 549.9,731.9 552.7,729.9 555.5,728.0 558.4,726.1 561.2,724.2 564.0,722.2 566.8,720.2 569.5,718.3 572.3,716.3 575.1,714.3 577.9,712.3 580.6,710.3 583.4,708.3 586.1,706.3 588.9,704.3 591.6,702.3 594.3,700.3 597.1,698.3 599.8,696.3 602.6,694.4 605.3,692.4 608.0,690.4 610.8,688.4 613.5,686.5 616.3,684.5 619.0,682.5 621.8,680.6 624.5,678.7 627.3,676.8 630.1,674.9 632.8,673.0 635.6,671.1 638.4,669.3 641.2,667.4 644.0,665.6 646.9,663.8 649.7,662.1 652.6,660.3 655.4,658.6 658.3,656.9 661.2,655.2 664.1,653.5 667.1,651.9 670.0,650.3 673.0,648.7 676.0,647.2 679.0,645.7 682.0,644.2 685.0,642.7 688.1,641.3 691.2,640.0 694.3,638.6 697.4,637.3 700.5,636.0 703.7,634.8 706.8,633.6 710.0,632.5 713.2,631.4 716.4,630.3 719.7,629.3 722.9,628.3 726.2,627.4 729.4,626.5 732.7,625.7 736.0,625.0 739.3,624.2 742.6,623.6 745.9,623.0 749.3,622.4 752.6,621.9 755.9,621.5 759.3,621.0 762.7,620.7 766.0,620.4 769.4,620.1 772.8,619.8 776.2,619.6 779.6,619.5 783.0,619.3 786.4,619.2 789.8,619.2 793.2,619.1 796.7,619.1 800.1,619.2 803.5,619.2 807.0,619.3 810.4,619.4 813.8,619.5 817.3,619.7 820.7,619.8 824.2,620.0 827.6,620.2 831.1,620.4 834.5,620.7 838.0,620.9 841.4,621.1 844.9,621.4 848.4,621.6 851.8,621.9 855.3,622.2 858.7,622.4 862.2,622.7 865.6,623.0 869.1,623.2 872.5,623.5 876.0,623.7 879.4,624.0 882.8,624.2 886.3,624.5 889.7,624.7 893.1,624.9 896.5,625.1 899.9,625.2 903.3,625.4 906.7,625.5 910.1,625.6 913.5,625.7 916.9,625.7 920.3,625.8 923.6,625.8 927.0,625.8 930.4,625.7 933.7,625.6 937.0,625.5 940.3,625.3 943.7,625.1 947.0,624.9 950.3,624.6 953.5,624.3 956.8,624.0 960.1,623.6 963.3,623.1 966.6,622.6 969.8,622.1 973.0,621.5 976.2,620.8 979.4,620.1 982.6,619.4 985.7,618.6 988.9,617.7 992.0,616.9 995.2,615.9 998.3,615.0 1001.4,613.9 1004.5,612.9 1007.6,611.8 1010.7,610.7 1013.8,609.5 1016.8,608.3 1019.9,607.0 1022.9,605.8 1026.0,604.5 1029.0,603.1 1032.1,601.8 1035.1,600.4 1038.1,599.0 1041.1,597.5 1044.2,596.0 1047.2,594.6 1050.2,593.0 1053.2,591.5 1056.2,589.9 1059.2,588.4 1062.1,586.8 1065.1,585.2 1068.1,583.6 1071.1,581.9 1074.1,580.3 1077.1,578.6 1080.1,577.0 1083.0,575.3 1086.0,573.6 1089.0,571.9 1092.0,570.2 1095.0,568.5 1097.9,566.8 1100.9,565.1 1103.9,563.4 1106.9,561.7 1109.9,560.0 1112.9,558.3 1115.9,556.6 1118.9,554.9 1121.9,553.3 1124.9,551.6 1127.9,549.9 1130.9,548.3 1134.0,546.7 1137.0,545.0 1140.0,543.4 1143.1,541.8 1146.1,540.3 1149.2,538.7 1152.3,537.2 1155.3,535.7 1158.4,534.2 1161.5,532.7 1164.6,531.3 1167.7,529.8 1170.8,528.4 1174.0,527.1 1177.1,525.7 1180.2,524.4 1183.4,523.2 1186.6,521.9 1189.8,520.7 1193.0,519.5 1196.2,518.4 1199.4,517.3 1202.6,516.2 1205.9,515.2 1209.1,514.3 1212.4,513.3 1215.7,512.4 1219.0,511.6 1222.3,510.8 1225.6,510.0 1229.0,509.3 1232.3,508.7 1235.7,508.1 1239.0,507.5 1242.4,507.0 1245.7,506.6 1249.1,506.2 1252.5,505.8 1255.8,505.6 1259.2,505.3 1262.6,505.2 1265.9,505.1 1269.3,505.0 1272.6,505.0 1276.0,505.1 1279.3,505.2 1282.6,505.4 1286.0,505.7 1289.3,506.1 1292.6,506.5 1295.8,506.9 1299.1,507.5 1302.3,508.1 1305.5,508.8 1308.8,509.5 1311.9,510.4 1315.1,511.3 1318.2,512.3 1321.4,513.3 1324.4,514.5 1327.5,515.7 1330.5,517.0 1333.5,518.3 1336.5,519.8 1339.5,521.4 1342.4,523.0 1345.3,524.7 1348.1,526.5 1350.9,528.3 1353.7,530.3 1356.5,532.2 1359.2,534.3 1361.9,536.4 1364.6,538.5 1367.3,540.7 1369.9,542.9 1372.6,545.2 1375.2,547.5 1377.8,549.8 1380.4,552.1 1382.9,554.4 1385.5,556.7 1388.1,559.1 1390.6,561.4 1393.1,563.8 1395.6,566.1 1398.2,568.4 1400.7,570.7 1403.2,573.0 1405.7,575.3 1408.1,577.6 1410.6,579.9 1413.0,582.2 1415.5,584.5 1417.9,586.9 1420.3,589.2 1422.6,591.6 1425.0,594.0 1427.3,596.4 1429.7,598.8 1432.0,601.2 1434.2,603.7 1436.5,606.2 1438.8,608.6 1441.0,611.1 1443.2,613.6 1445.4,616.2 1447.6,618.7 1449.8,621.3 1452.0,623.8 1454.1,626.4 1456.2,629.0 1458.3,631.6 1460.5,634.2 1462.5,636.8 1464.6,639.5 1466.7,642.1 1468.7,644.8 1470.8,647.5 1472.8,650.2 1474.8,652.9 1476.8,655.6 1478.8,658.3 1480.8,661.0 1482.8,663.7 1484.7,666.5 1486.7,669.2 1488.6,672.0 1490.5,674.8 1492.4,677.6 1494.4,680.3 1496.3,683.1 1498.1,685.9 1500.0,688.8 1501.9,691.6 1503.8,694.4 1505.6,697.2 1507.5,700.1 1509.3,702.9 1511.2,705.8 1513.0,708.6 1514.8,711.5 1516.6,714.3 1518.4,717.2 1520.3,720.1 1522.1,722.9 1523.9,725.8 1525.6,728.7 1527.4,731.6 1529.2,734.5 1531.0,737.4 1532.8,740.3 1534.5,743.2 1536.3,746.1 1538.1,749.0 1539.8,751.9 1541.6,754.8 1543.4,757.7 1545.1,760.6 1546.9,763.5 1548.6,766.4 1550.4,769.3 1552.1,772.3 1553.9,775.2 1555.6,778.1 1557.4,781.0 1559.1,783.9 1560.9,786.8 1562.6,789.7 1564.4,792.6 1566.1,795.6 1567.8,798.5 1569.6,801.4 1571.3,804.3 1573.1,807.2 1574.8,810.1 1576.6,813.0 1578.3,815.9 1580.0,818.9 1581.8,821.8 1583.5,824.7 1585.3,827.6 1587.0,830.5 1588.7,833.4 1590.5,836.3 1592.2,839.2 1594.0,842.1 1595.7,845.0 1597.5,847.9 1599.2,850.9 1601.0,853.8 1602.7,856.7 1604.5,859.6 1606.2,862.5 1608.0,865.4 1609.7,868.3 1611.5,871.2 1613.2,874.1 1615.0,876.9 1616.7,879.8 1618.5,882.7 1620.3,885.6 1622.0,888.5 1623.8,891.4 1625.6,894.3 1627.3,897.2 1629.1,900.0 1630.9,902.9 1632.7,905.8 1634.5,908.7 1636.2,911.6 1638.0,914.4 1639.8,917.3 1641.6,920.2 1643.4,923.0 1645.2,925.9 1647.0,928.8 1648.8,931.6 1650.6,934.5 1652.4,937.3 1654.2,940.2 1656.1,943.0 1657.9,945.9 1659.7,948.7 1661.5,951.6 1663.4,954.4 1665.2,957.2 1667.1,960.1 1668.9,962.9 1670.8,965.7 1672.6,968.5 1674.5,971.4 1676.3,974.2 1678.2,977.0 1680.1,979.8 1682.0,982.6 1683.8,985.4 1685.7,988.2 1687.6,991.0 1689.5,993.8 1691.4,996.6 1693.3,999.4 1695.2,1002.2 1697.1,1005.0 1699.1,1007.7 1701.0,1010.5 1702.9,1013.3 1704.9,1016.1 1706.8,1018.8 1708.8,1021.6 1710.7,1024.3 1712.7,1027.1 1714.7,1029.8 1716.6,1032.6 1718.6,1035.3 1720.6,1038.0 1722.6,1040.8 1724.6,1043.5 1726.6,1046.2 1728.6,1048.9 1730.7,1051.6 1732.7,1054.3 1734.7,1057.0 1736.8,1059.7 1738.8,1062.4 1740.9,1065.1 1742.9,1067.8 1745.0,1070.5 1747.1,1073.1 1749.2,1075.8 1751.2,1078.5 1753.3,1081.1 1755.4,1083.8 1757.5,1086.4 1759.7,1089.1 1761.8,1091.7 1763.9,1094.4 1766.0,1097.0 1768.2,1099.6 1770.3,1102.3 1772.5,1104.9 1774.6,1107.5 1776.8,1110.1 1778.9,1112.7 1781.1,1115.3 1783.3,1117.9 1785.5,1120.5 1787.7,1123.1 1789.9,1125.7 1792.1,1128.2 1794.3,1130.8 1796.5,1133.4 1798.7,1135.9 1801.0,1138.5 1803.2,1141.0 1805.4,1143.6 1807.7,1146.1 1809.9,1148.7 1812.2,1151.2 1814.4,1153.7 1816.7,1156.3 1819.0,1158.8 1821.2,1161.3 1823.5,1163.8 1825.8,1166.3 1828.1,1168.8 1830.4,1171.3 1832.7,1173.8 1835.0,1176.3 1837.3,1178.8 1839.6,1181.2 1841.9,1183.7 1844.3,1186.2 1846.6,1188.6 1848.9,1191.1 1851.3,1193.5 1853.6,1196.0 1856.0,1198.4 1858.3,1200.9 1860.7,1203.3 1863.1,1205.7 1865.4,1208.2 1867.8,1210.6 1870.2,1213.0 1872.6,1215.4 1875.0,1217.8 1877.3,1220.2 1879.7,1222.6 1882.1,1225.0 1884.5,1227.4 1887.0,1229.7 1889.4,1232.1 1891.8,1234.5 1894.2,1236.9 1896.6,1239.2 1899.1,1241.6 1901.5,1243.9 1903.9,1246.3 1906.4,1248.6 1908.8,1250.9 1911.3,1253.3 1913.8,1255.6 1916.2,1257.9 1918.7,1260.2 1921.2,1262.4 1923.8,1264.6 1926.3,1266.8 1928.9,1269.0 1931.5,1271.1 1934.2,1273.2 1936.8,1275.2 1939.6,1277.2 1942.4,1279.1 1945.2,1280.9 1948.0,1282.7 1951.0,1284.4 1954.0,1286.1 1957.0,1287.6 1960.1,1289.1 1963.3,1290.5 1964.9,1291.1" stroke="#10f814" />
<path d="M382.3,946.6 385.7,943.8 389.2,940.9 392.5,937.9 395.8,934.9 399.0,931.9 402.2,928.8 405.3,925.7 408.4,922.6 411.4,919.4 414.4,916.1 417.3,912.9 420.1,909.6 422.9,906.2 425.7,902.9 428.4,899.5 431.0,896.0 433.7,892.6 436.2,889.1 438.7,885.6 441.2,882.0 443.7,878.4 446.0,874.8 448.4,871.2 450.7,867.5 453.0,863.8 455.2,860.1 457.4,856.3 459.6,852.5 461.7,848.7 463.8,844.9 465.8,841.1 467.8,837.2 469.8,833.3 471.8,829.4 473.7,825.5 475.6,821.6 477.5,817.6 479.3,813.6 481.1,809.7 482.9,805.6 484.7,801.6 486.4,797.6 488.1,793.5 489.8,789.5 491.5,785.4 493.1,781.3 494.7,777.2 496.3,773.1 497.9,769.0 499.5,764.9 501.1,760.7 502.6,756.6 504.1,752.5 505.6,748.3 507.1,744.2 508.6,740.0 510.1,735.8 511.6,731.7 513.0,727.5 514.5,723.3 515.9,719.2 517.3,715.0 518.8,710.8 520.2,706.7 521.6,702.5 523.0,698.4 524.5,694.2 525.9,690.1 527.3,685.9 528.7,681.8 530.1,677.6 531.5,673.5 532.9,669.4 534.3,665.2 535.7,661.1 537.1,657.0 538.5,652.9 539.9,648.7 541.3,644.6 542.7,640.5 544.1,636.4 545.5,632.3 546.9,628.2 548.3,624.1 549.7,620.0 551.1,615.9 552.5,611.8 553.9,607.6 555.3,603.5 556.7,599.4 558.1,595.3 559.5,591.2 560.9,587.1 562.3,583.0 563.6,578.9 565.0,574.8 566.4,570.7 567.8,566.6 569.2,562.4 570.6,558.3 572.0,554.2 573.4,550.1 574.7,545.9 576.1,541.8 577.5,537.7 578.9,533.5 580.3,529.4 581.7,525.2 583.1,521.1 584.4,516.9 585.8,512.8 587.2,508.6 588.6,504.4 590.0,500.3 591.4,496.1 592.8,491.9 594.1,487.7 595.5,483.5 596.9,479.3 598.3,475.1 599.7,470.9 601.1,466.7 602.5,462.4 603.9,458.2 605.3,454.0 606.7,449.8 608.2,445.6 609.6,441.4 611.1,437.2 612.6,433.0 614.1,428.8 615.6,424.6 617.2,420.4 618.8,416.3 620.4,412.1 622.0,408.0 623.7,403.9 625.3,399.8 627.1,395.8 628.8,391.7 630.6,387.7 632.5,383.7 634.4,379.8 636.3,375.8 638.2,371.9 640.3,368.0 642.3,364.2 644.4,360.4 646.6,356.6 648.8,352.8 651.1,349.1 653.4,345.5 655.8,341.8 658.2,338.2 660.7,334.7 663.3,331.2 665.9,327.7 668.6,324.3 671.4,321.0 674.2,317.7 677.1,314.4 680.1,311.2 683.1,308.0 686.3,305.0 689.5,302.0 692.8,299.1 696.1,296.4 699.6,294.0 703.1,291.9 706.7,290.2 710.3,288.9 714.1,288.0 717.9,287.6 721.7,287.8 725.7,288.6 729.6,289.9 733.6,291.6 737.6,293.6 741.5,296.0 745.3,298.6 749.0,301.4 752.6,304.3 756.1,307.3 759.5,310.4 762.7,313.6 765.9,316.9 768.9,320.3 771.8,323.7 774.7,327.2 777.4,330.7 780.1,334.3 782.7,338.0 785.3,341.7 787.8,345.4 790.2,349.2 792.5,353.0 794.9,356.8 797.1,360.7 799.4,364.5 801.6,368.4 803.8,372.2 806.0,376.1 808.1,380.0 810.2,383.9 812.3,387.7 814.4,391.6 816.5,395.5 818.5,399.4 820.6,403.3 822.6,407.2 824.6,411.1 826.6,415.0 828.5,418.9 830.5,422.7 832.4,426.6 834.4,430.5 836.3,434.4 838.2,438.3 840.2,442.2 842.1,446.1 844.0,450.0 845.9,453.9 847.8,457.8 849.8,461.7 851.7,465.6 853.6,469.5 855.5,473.4 857.5,477.2 859.4,481.1 861.3,485.0 863.3,488.8 865.3,492.7 867.2,496.6 869.2,500.4 871.2,504.3 873.2,508.1 875.3,511.9 877.3,515.8 879.4,519.6 881.5,523.4 883.6,527.2 885.7,531.0 887.9,534.8 890.1,538.6 892.3,542.4 894.5,546.2 896.8,549.9 899.1,553.7 901.4,557.4 903.7,561.2 906.1,564.9 908.5,568.6 911.0,572.3 913.5,576.0 916.0,579.7 918.6,583.4 921.2,587.0 923.8,590.7 926.5,594.3 929.2,597.8 932.1,601.3 934.9,604.7 937.9,608.0 940.9,611.1 944.1,614.2 947.3,617.0 950.6,619.7 954.1,622.2 957.6,624.5 961.3,626.6 965.1,628.4 969.1,629.9 973.1,631.2 977.3,632.2 981.6,632.9 986.0,633.3 990.4,633.5 994.9,633.4 999.3,633.0 1003.7,632.3 1008.0,631.4 1012.2,630.2 1016.3,628.8 1020.3,627.1 1024.2,625.2 1028.1,623.1 1031.8,620.9 1035.5,618.5 1039.1,615.9 1042.7,613.3 1046.2,610.5 1049.7,607.7 1053.2,604.9 1056.6,601.9 1060.0,599.0 1063.4,596.0 1066.7,592.9 1070.0,589.9 1073.2,586.9 1076.4,583.8 1079.6,580.8 1082.7,577.8 1085.8,574.8 1088.8,571.9 1091.9,569.0 1094.9,566.1 1097.8,563.2 1100.8,560.3 1103.7,557.4 1106.7,554.4 1109.6,551.5 1112.6,548.6 1115.5,545.6 1118.5,542.6 1121.5,539.6 1124.5,536.5 1127.5,533.4 1130.6,530.2 1133.7,527.0 1136.8,523.7 1140.0,520.4 1143.2,516.9 1146.5,513.5 1149.8,510.0 1153.2,506.5 1156.6,503.1 1160.1,499.7 1163.6,496.4 1167.2,493.3 1170.8,490.3 1174.5,487.5 1178.2,484.9 1182.0,482.5 1185.8,480.4 1189.6,478.6 1193.5,477.1 1197.5,475.8 1201.4,474.8 1205.4,474.1 1209.5,473.5 1213.5,473.3 1217.5,473.2 1221.6,473.4 1225.7,473.8 1229.7,474.3 1233.8,475.1 1237.8,476.1 1241.9,477.3 1245.9,478.6 1249.9,480.1 1253.8,481.8 1257.8,483.6 1261.7,485.6 1265.5,487.7 1269.3,489.9 1273.1,492.3 1276.8,494.8 1280.4,497.4 1284.0,500.1 1287.5,502.9 1290.9,505.8 1294.2,508.8 1297.5,511.8 1300.6,514.9 1303.7,518.1 1306.7,521.3 1309.6,524.6 1312.5,528.0 1315.2,531.3 1317.9,534.8 1320.5,538.3 1323.0,541.8 1325.5,545.4 1327.9,549.0 1330.3,552.7 1332.5,556.4 1334.8,560.1 1337.0,563.9 1339.1,567.7 1341.2,571.5 1343.3,575.4 1345.3,579.3 1347.3,583.2 1349.3,587.1 1351.2,591.0 1353.2,595.0 1355.1,598.9 1357.0,602.9 1358.8,606.9 1360.7,610.9 1362.5,614.9 1364.4,618.9 1366.2,622.9 1368.1,626.9 1369.9,630.9 1371.8,634.9 1373.7,638.9 1375.6,642.8 1377.4,646.8 1379.3,650.8 1381.2,654.7 1383.2,658.7 1385.1,662.7 1387.0,666.6 1388.9,670.5 1390.8,674.5 1392.8,678.4 1394.7,682.4 1396.6,686.3 1398.6,690.2 1400.5,694.2 1402.5,698.1 1404.4,702.0 1406.3,705.9 1408.3,709.9 1410.2,713.8 1412.2,717.7 1414.1,721.6 1416.0,725.6 1418.0,729.5 1419.9,733.4 1421.8,737.3 1423.7,741.3 1425.7,745.2 1427.6,749.1 1429.5,753.1 1431.4,757.0 1433.3,760.9 1435.2,764.9 1437.0,768.8 1438.9,772.8 1440.8,776.7 1442.6,780.7 1444.5,784.6 1446.3,788.6 1448.1,792.5 1450.0,796.5 1451.8,800.5 1453.6,804.5 1455.4,808.4 1457.2,812.4 1459.0,816.4 1460.7,820.4 1462.5,824.4 1464.3,828.4 1466.0,832.4 1467.8,836.4 1469.5,840.4 1471.3,844.4 1473.0,848.4 1474.8,852.4 1476.5,856.4 1478.2,860.4 1480.0,864.4 1481.7,868.4 1483.4,872.4 1485.1,876.4 1486.9,880.4 1488.6,884.5 1490.3,888.5 1492.0,892.5 1493.7,896.5 1495.4,900.5 1497.1,904.5 1498.9,908.6 1500.6,912.6 1502.3,916.6 1504.0,920.6 1505.7,924.6 1507.4,928.6 1509.2,932.7 1510.9,936.7 1512.6,940.7 1514.3,944.7 1516.1,948.7 1517.8,952.7 1519.6,956.7 1521.3,960.7 1523.0,964.7 1524.8,968.7 1526.6,972.7 1528.3,976.7 1530.1,980.7 1531.9,984.7 1533.6,988.7 1535.4,992.7 1537.2,996.7 1539.0,1000.6 1540.8,1004.6 1542.6,1008.6 1544.5,1012.6 1546.3,1016.5 1548.1,1020.5 1550.0,1024.5 1551.8,1028.4 1553.7,1032.4 1555.6,1036.3 1557.5,1040.3 1559.4,1044.2 1561.3,1048.2 1563.2,1052.1 1565.1,1056.0 1567.0,1059.9 1569.0,1063.8 1571.0,1067.8 1572.9,1071.7 1574.9,1075.6 1576.9,1079.5 1578.9,1083.4 1581.0,1087.2 1583.0,1091.1 1585.1,1095.0 1587.1,1098.9 1589.2,1102.7 1591.3,1106.6 1593.4,1110.4 1595.6,1114.3 1597.7,1118.1 1599.9,1121.9 1602.0,1125.7 1604.2,1129.5 1606.4,1133.4 1608.7,1137.1 1610.9,1140.9 1613.2,1144.7 1615.5,1148.5 1617.8,1152.2 1620.1,1156.0 1622.4,1159.7 1624.8,1163.4 1627.1,1167.1 1629.5,1170.8 1631.9,1174.5 1634.3,1178.2 1636.8,1181.9 1639.3,1185.5 1641.7,1189.1 1644.2,1192.7 1646.8,1196.3 1649.3,1199.9 1651.9,1203.5 1654.5,1207.0 1657.1,1210.6 1659.7,1214.1 1662.3,1217.6 1665.0,1221.1 1667.7,1224.5 1670.4,1227.9 1673.1,1231.4 1675.9,1234.8 1678.7,1238.1 1681.5,1241.5 1684.3,1244.8 1687.1,1248.2 1690.0,1251.4 1692.9,1254.7 1695.8,1258.0 1698.8,1261.2 1701.7,1264.4 1704.7,1267.5 1707.7,1270.7 1710.8,1273.8 1713.8,1276.9 1716.9,1280.0 1720.0,1283.0 1723.2,1286.0 1726.3,1289.0 1729.5,1292.0 1732.7,1294.9 1735.9,1297.8 1739.2,1300.7 1742.5,1303.6 1745.8,1306.4 1749.2,1309.2 1752.5,1311.9 1755.9,1314.6 1759.3,1317.3 1762.8,1320.0 1766.3,1322.6 1769.8,1325.2 1773.3,1327.8 1776.9,1330.3 1780.5,1332.8 1784.1,1335.2 1787.7,1337.6 1791.4,1340.0 1795.1,1342.4 1798.9,1344.7 1802.6,1347.0 1806.4,1349.2 1810.3,1351.4 1814.1,1353.6 1818.0,1355.7 1821.9,1357.8 1825.9,1359.8 1829.8,1361.8 1833.8,1363.8 1837.9,1365.7 1842.0,1367.6 1844.0,1368.5" stroke="#3eb1ee" />
<path d="M381.6,796.1 384.8,798.0 388.0,799.8 391.3,801.5 394.5,803.1 397.8,804.6 401.1,806.1 404.4,807.4 407.7,808.7 411.0,809.8 414.3,810.9 417.6,811.9 420.9,812.8 424.3,813.6 427.6,814.3 431.0,814.9 434.3,815.5 437.6,816.0 441.0,816.4 444.3,816.7 447.7,816.9 451.0,817.1 454.3,817.2 457.7,817.2 461.0,817.1 464.3,817.0 467.6,816.8 470.9,816.5 474.2,816.2 477.4,815.8 480.7,815.3 483.9,814.7 487.2,814.1 490.4,813.5 493.6,812.7 496.8,811.9 499.9,811.1 503.1,810.2 506.2,809.2 509.3,808.2 512.3,807.1 515.4,806.0 518.4,804.8 521.4,803.5 524.4,802.2 527.3,800.9 530.3,799.5 533.2,798.1 536.1,796.6 538.9,795.1 541.8,793.5 544.6,791.9 547.5,790.2 550.3,788.5 553.0,786.8 555.8,785.0 558.6,783.2 561.3,781.3 564.0,779.5 566.7,777.6 569.4,775.6 572.1,773.6 574.7,771.6 577.4,769.6 580.0,767.5 582.7,765.4 585.3,763.3 587.9,761.2 590.5,759.0 593.1,756.8 595.6,754.6 598.2,752.4 600.8,750.2 603.3,747.9 605.9,745.7 608.4,743.4 611.0,741.1 613.5,738.8 616.0,736.4 618.5,734.1 621.1,731.8 623.6,729.4 626.1,727.1 628.6,724.7 631.1,722.3 633.6,720.0 636.1,717.6 638.6,715.2 641.1,712.9 643.6,710.5 646.1,708.1 648.6,705.7 651.1,703.4 653.6,701.0 656.1,698.6 658.6,696.3 661.2,693.9 663.7,691.6 666.2,689.2 668.7,686.9 671.2,684.6 673.8,682.3 676.3,680.0 678.9,677.7 681.4,675.4 684.0,673.2 686.5,670.9 689.1,668.7 691.7,666.5 694.3,664.3 696.9,662.1 699.5,659.9 702.1,657.8 704.7,655.7 707.3,653.6 710.0,651.5 712.6,649.4 715.3,647.4 718.0,645.4 720.7,643.4 723.4,641.5 726.1,639.5 728.8,637.6 731.6,635.8 734.3,633.9 737.1,632.1 739.9,630.3 742.7,628.6 745.5,626.9 748.4,625.2 751.2,623.6 754.1,622.0 757.0,620.4 759.9,618.9 762.8,617.4 765.7,616.0 768.7,614.6 771.7,613.2 774.7,611.9 777.7,610.6 780.7,609.4 783.8,608.2 786.9,607.0 790.0,606.0 793.1,604.9 796.3,603.9 799.4,602.9 802.6,602.0 805.8,601.2 809.1,600.3 812.3,599.6 815.5,598.8 818.8,598.2 822.1,597.5 825.4,596.9 828.7,596.4 832.0,595.9 835.3,595.4 838.7,595.0 842.0,594.6 845.4,594.3 848.7,594.0 852.1,593.7 855.5,593.5 858.8,593.3 862.2,593.2 865.6,593.1 869.0,593.1 872.4,593.0 875.8,593.0 879.2,593.0 882.6,593.1 886.0,593.2 889.5,593.3 892.9,593.4 896.3,593.5 899.7,593.7 903.2,593.8 906.6,594.0 910.0,594.2 913.4,594.4 916.9,594.6 920.3,594.8 923.7,595.1 927.1,595.3 930.6,595.5 934.0,595.7 937.4,595.9 940.8,596.1 944.2,596.3 947.7,596.5 951.1,596.7 954.5,596.9 957.9,597.0 961.3,597.2 964.7,597.3 968.1,597.4 971.4,597.5 974.8,597.5 978.2,597.6 981.6,597.6 984.9,597.6 988.3,597.6 991.7,597.6 995.0,597.6 998.4,597.5 1001.7,597.4 1005.1,597.3 1008.4,597.2 1011.8,597.0 1015.1,596.8 1018.4,596.6 1021.7,596.4 1025.0,596.1 1028.3,595.8 1031.7,595.5 1035.0,595.1 1038.2,594.8 1041.5,594.4 1044.8,593.9 1048.1,593.5 1051.4,593.0 1054.6,592.4 1057.9,591.9 1061.1,591.3 1064.4,590.6 1067.6,590.0 1070.9,589.3 1074.1,588.5 1077.3,587.8 1080.6,587.0 1083.8,586.1 1087.0,585.2 1090.2,584.3 1093.4,583.3 1096.6,582.3 1099.7,581.3 1102.9,580.2 1106.1,579.1 1109.3,578.0 1112.4,576.8 1115.6,575.7 1118.7,574.5 1121.9,573.2 1125.1,572.0 1128.2,570.7 1131.4,569.4 1134.5,568.1 1137.6,566.8 1140.8,565.5 1143.9,564.2 1147.1,562.9 1150.2,561.5 1153.4,560.2 1156.5,558.9 1159.7,557.5 1162.8,556.2 1166.0,554.9 1169.1,553.5 1172.3,552.2 1175.5,550.9 1178.6,549.6 1181.8,548.3 1185.0,547.1 1188.1,545.8 1191.3,544.6 1194.5,543.4 1197.7,542.2 1200.9,541.1 1204.1,540.0 1207.3,538.9 1210.6,537.8 1213.8,536.8 1217.0,535.8 1220.3,534.8 1223.5,533.9 1226.8,533.0 1230.1,532.2 1233.4,531.4 1236.7,530.7 1240.0,530.0 1243.3,529.3 1246.6,528.7 1249.9,528.2 1253.3,527.7 1256.6,527.2 1259.9,526.8 1263.3,526.4 1266.6,526.1 1270.0,525.9 1273.3,525.7 1276.7,525.5 1280.0,525.4 1283.3,525.3 1286.7,525.3 1290.0,525.4 1293.3,525.4 1296.7,525.6 1300.0,525.8 1303.3,526.1 1306.6,526.4 1309.9,526.7 1313.1,527.2 1316.4,527.6 1319.7,528.2 1322.9,528.7 1326.1,529.4 1329.4,530.1 1332.6,530.8 1335.7,531.7 1338.9,532.5 1342.0,533.5 1345.2,534.5 1348.3,535.5 1351.4,536.6 1354.5,537.8 1357.5,539.0 1360.5,540.2 1363.6,541.6 1366.6,542.9 1369.5,544.4 1372.5,545.8 1375.4,547.4 1378.4,548.9 1381.3,550.5 1384.1,552.2 1387.0,553.9 1389.9,555.6 1392.7,557.4 1395.5,559.3 1398.3,561.1 1401.0,563.0 1403.8,565.0 1406.5,567.0 1409.2,569.0 1411.9,571.1 1414.6,573.1 1417.2,575.3 1419.8,577.4 1422.4,579.6 1425.0,581.8 1427.6,584.1 1430.1,586.4 1432.7,588.7 1435.2,591.0 1437.6,593.3 1440.1,595.7 1442.6,598.1 1445.0,600.5 1447.4,603.0 1449.8,605.4 1452.1,607.9 1454.5,610.4 1456.8,612.9 1459.1,615.4 1461.3,618.0 1463.6,620.6 1465.8,623.1 1468.0,625.7 1470.2,628.3 1472.4,630.9 1474.6,633.5 1476.7,636.1 1478.8,638.8 1480.9,641.4 1483.0,644.0 1485.1,646.7 1487.1,649.4 1489.1,652.0 1491.2,654.7 1493.2,657.4 1495.2,660.1 1497.2,662.7 1499.2,665.4 1501.2,668.1 1503.1,670.8 1505.1,673.5 1507.1,676.3 1509.0,679.0 1511.0,681.7 1512.9,684.4 1514.9,687.1 1516.9,689.8 1518.8,692.5 1520.8,695.2 1522.7,698.0 1524.7,700.7 1526.6,703.4 1528.5,706.1 1530.5,708.9 1532.4,711.6 1534.4,714.3 1536.3,717.1 1538.2,719.8 1540.2,722.5 1542.1,725.3 1544.0,728.0 1545.9,730.7 1547.9,733.5 1549.8,736.2 1551.7,739.0 1553.6,741.7 1555.5,744.5 1557.4,747.2 1559.3,750.0 1561.3,752.7 1563.2,755.5 1565.1,758.3 1567.0,761.0 1568.9,763.8 1570.8,766.6 1572.7,769.3 1574.6,772.1 1576.4,774.9 1578.3,777.6 1580.2,780.4 1582.1,783.2 1584.0,786.0 1585.9,788.8 1587.7,791.6 1589.6,794.4 1591.5,797.1 1593.4,799.9 1595.2,802.7 1597.1,805.5 1599.0,808.3 1600.8,811.1 1602.7,813.9 1604.6,816.7 1606.4,819.5 1608.3,822.4 1610.1,825.2 1612.0,828.0 1613.9,830.8 1615.7,833.6 1617.6,836.4 1619.4,839.2 1621.3,842.0 1623.1,844.9 1625.0,847.7 1626.8,850.5 1628.7,853.3 1630.5,856.1 1632.4,859.0 1634.2,861.8 1636.1,864.6 1637.9,867.4 1639.8,870.2 1641.6,873.1 1643.5,875.9 1645.3,878.7 1647.2,881.5 1649.0,884.3 1650.9,887.2 1652.7,890.0 1654.6,892.8 1656.4,895.6 1658.3,898.5 1660.2,901.3 1662.0,904.1 1663.9,906.9 1665.7,909.7 1667.6,912.6 1669.4,915.4 1671.3,918.2 1673.2,921.0 1675.0,923.8 1676.9,926.6 1678.7,929.5 1680.6,932.3 1682.5,935.1 1684.3,937.9 1686.2,940.7 1688.1,943.5 1690.0,946.3 1691.8,949.1 1693.7,951.9 1695.6,954.7 1697.5,957.5 1699.4,960.3 1701.3,963.1 1703.2,965.9 1705.1,968.7 1706.9,971.5 1708.8,974.3 1710.7,977.1 1712.6,979.8 1714.6,982.6 1716.5,985.4 1718.4,988.2 1720.3,991.0 1722.2,993.7 1724.1,996.5 1726.1,999.3 1728.0,1002.0 1729.9,1004.8 1731.9,1007.5 1733.8,1010.3 1735.7,1013.0 1737.7,1015.8 1739.6,1018.5 1741.6,1021.3 1743.5,1024.0 1745.5,1026.8 1747.5,1029.5 1749.4,1032.2 1751.4,1034.9 1753.4,1037.7 1755.4,1040.4 1757.4,1043.1 1759.4,1045.8 1761.4,1048.5 1763.4,1051.2 1765.4,1053.9 1767.4,1056.6 1769.4,1059.3 1771.4,1062.0 1773.4,1064.7 1775.5,1067.3 1777.5,1070.0 1779.5,1072.7 1781.6,1075.4 1783.6,1078.0 1785.7,1080.7 1787.7,1083.3 1789.8,1086.0 1791.9,1088.6 1794.0,1091.2 1796.1,1093.9 1798.1,1096.5 1800.2,1099.1 1802.3,1101.7 1804.5,1104.4 1806.6,1107.0 1808.7,1109.6 1810.8,1112.2 1812.9,1114.7 1815.1,1117.3 1817.2,1119.9 1819.4,1122.5 1821.5,1125.0 1823.7,1127.6 1825.9,1130.2 1828.1,1132.7 1830.3,1135.2 1832.4,1137.8 1834.6,1140.3 1836.9,1142.8 1839.1,1145.4 1841.3,1147.9 1843.5,1150.4 1845.8,1152.9 1848.0,1155.4 1850.3,1157.9 1852.5,1160.3 1854.8,1162.8 1857.1,1165.3 1859.3,1167.7 1861.6,1170.2 1863.9,1172.6 1866.2,1175.1 1868.6,1177.5 1870.9,1179.9 1873.2,1182.3 1875.6,1184.7 1877.9,1187.1 1880.3,1189.5 1882.6,1191.9 1885.0,1194.3 1887.4,1196.7 1889.8,1199.0 1892.2,1201.4 1894.6,1203.7 1897.0,1206.1 1899.4,1208.4 1901.9,1210.7 1904.3,1213.1 1906.8,1215.4 1909.2,1217.7 1911.7,1220.0 1914.2,1222.2 1916.7,1224.5 1919.2,1226.8 1921.7,1229.0 1924.2,1231.3 1926.8,1233.5 1929.3,1235.8 1931.9,1238.0 1934.4,1240.2 1937.0,1242.4 1939.6,1244.6 1942.2,1246.8 1944.8,1249.0 1947.4,1251.1 1950.0,1253.3 1952.7,1255.4 1955.3,1257.6 1958.0,1259.7 1960.6,1261.8 1963.3,1264.0 1964.6,1265.0" stroke="#ff00ff" />
</g>
<g fill="none" stroke="#111" stroke-width="5" stroke-dasharray="33 31.5">
<line x1="724.8" y1="159" x2="724.8" y2="1418"/>
<line x1="1321.1" y1="159" x2="1321.1" y2="1418"/>
</g>
</g>
<g stroke="#111" stroke-width="6" fill="none">
<rect x="382" y="146" width="1580" height="1272"/>
<line x1="357" y1="1418.0" x2="382" y2="1418.0"/>
<line x1="370" y1="1338.5" x2="382" y2="1338.5"/>
<line x1="357" y1="1259.0" x2="382" y2="1259.0"/>
<line x1="370" y1="1179.5" x2="382" y2="1179.5"/>
<line x1="357" y1="1100.0" x2="382" y2="1100.0"/>
<line x1="370" y1="1020.5" x2="382" y2="1020.5"/>
<line x1="357" y1="941.0" x2="382" y2="941.0"/>
<line x1="370" y1="861.5" x2="382" y2="861.5"/>
<line x1="357" y1="782.0" x2="382" y2="782.0"/>
<line x1="370" y1="702.5" x2="382" y2="702.5"/>
<line x1="357" y1="623.0" x2="382" y2="623.0"/>
<line x1="370" y1="543.5" x2="382" y2="543.5"/>
<line x1="357" y1="464.0" x2="382" y2="464.0"/>
<line x1="370" y1="384.5" x2="382" y2="384.5"/>
<line x1="357" y1="305.0" x2="382" y2="305.0"/>
<line x1="370" y1="225.5" x2="382" y2="225.5"/>
<line x1="357" y1="146.0" x2="382" y2="146.0"/>
<line x1="471.4" y1="1418" x2="471.4" y2="1430"/>
<line x1="620.5" y1="1418" x2="620.5" y2="1443"/>
<line x1="769.5" y1="1418" x2="769.5" y2="1430"/>
<line x1="918.6" y1="1418" x2="918.6" y2="1443"/>
<line x1="1067.7" y1="1418" x2="1067.7" y2="1430"/>
<line x1="1216.7" y1="1418" x2="1216.7" y2="1443"/>
<line x1="1365.8" y1="1418" x2="1365.8" y2="1430"/>
<line x1="1514.8" y1="1418" x2="1514.8" y2="1443"/>
<line x1="1663.9" y1="1418" x2="1663.9" y2="1430"/>
<line x1="1812.9" y1="1418" x2="1812.9" y2="1443"/>
</g>
<g font-family="'Liberation Serif', serif" font-size="80" fill="#111">
<text x="341" y="1442.0" text-anchor="end">0</text>
<text x="341" y="1283.0" text-anchor="end">2,500</text>
<text x="341" y="1124.0" text-anchor="end">5,000</text>
<text x="341" y="965.0" text-anchor="end">7,500</text>
<text x="341" y="806.0" text-anchor="end">10,000</text>
<text x="341" y="647.0" text-anchor="end">12,500</text>
<text x="341" y="488.0" text-anchor="end">15,000</text>
<text x="341" y="329.0" text-anchor="end">17,500</text>
<text x="341" y="170.0" text-anchor="end">20,000</text>
<text x="620.5" y="1521" text-anchor="middle">280</text>
<text x="918.6" y="1521" text-anchor="middle">300</text>
<text x="1216.7" y="1521" text-anchor="middle">320</text>
<text x="1514.8" y="1521" text-anchor="middle">340</text>
<text x="1812.9" y="1521" text-anchor="middle">360</text>
</g>
<g font-family="'Liberation Serif', serif" font-weight="bold" font-size="74" fill="#111">

<g fill="none" stroke-width="6" stroke-linecap="round">
<line x1="1332.5" y1="190" x2="1492" y2="190" stroke="#ff8010"/>
<line x1="1332.5" y1="280.3" x2="1492" y2="280.3" stroke="#10f814"/>
<line x1="1332.5" y1="371" x2="1492" y2="371" stroke="#3eb1ee"/>
<line x1="402.6" y1="1088" x2="553" y2="1088" stroke="#e4063a" stroke-width="8" stroke-dasharray="0 18.72"/>
<line x1="400" y1="1178" x2="564" y2="1178" stroke="#000"/>
<line x1="400" y1="1268" x2="564" y2="1268" stroke="#0000f4"/>
<line x1="402" y1="1356" x2="568" y2="1356" stroke="#ff00ff"/>
</g>
<text x="1527" y="214.5" textLength="426.7" lengthAdjust="spacingAndGlyphs">CAM-B3LYP</text>
<text x="1528" y="304.5" textLength="252" lengthAdjust="spacingAndGlyphs">M06-2X</text>
<text x="1529" y="394.5" textLength="176.8" lengthAdjust="spacingAndGlyphs">PBE0</text>
<text font-size="72.5" x="600" y="1112">experiment</text>
<text font-size="72.5" x="603" y="1203">B3LYP</text>
<text font-size="72.5" x="603" y="1293">B3LYP-D3(BJ)</text>
<text font-size="72.5" x="603" y="1380">ω-B97XD</text>
<text x="723.5" y="907.5" font-size="74">287</text>
<text x="1336" y="1265.5" font-size="74">327</text>

</g>
<g font-family="'Liberation Serif', serif" font-weight="bold" font-size="79.2" fill="#111">
<text x="1176" y="1649" text-anchor="middle" font-size="78">wavelength (nm)</text>
<text transform="translate(94,782) rotate(-90)" text-anchor="middle">Molar Absorption Coeffieient ε (L mol<tspan dy="-33" font-size="50">−1</tspan><tspan dy="33">cm</tspan><tspan dy="-33" font-size="50">−1</tspan><tspan dy="33">)</tspan></text>
</g>
</svg>
</body></html>
